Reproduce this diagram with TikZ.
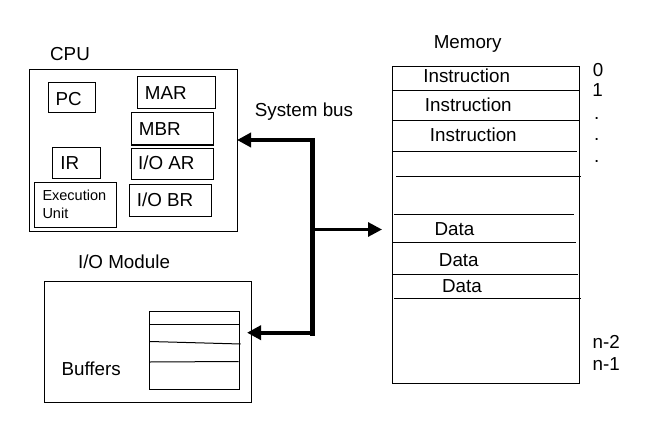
\documentclass[tikz,border=0pt]{standalone}
\usepackage{fontspec}
\setmainfont{Liberation Sans}
\usetikzlibrary{arrows.meta}
\begin{document}
\begin{tikzpicture}[x=1pt,y=-1pt,
  box/.style={draw, line width=1pt, anchor=north west, inner sep=0pt, outer sep=0pt},
  lbl/.style={inner sep=0pt, text height=13.5pt, text depth=0pt, font=\fontsize{18.8}{20}\selectfont},
  small/.style={inner sep=0pt, text height=10.4pt, text depth=0pt, font=\fontsize{14.5}{16}\selectfont, anchor=west},
  thin/.style={line width=1pt},
  bus/.style={line width=4pt, -{Triangle[length=14pt,width=14pt]}}]
\useasboundingbox (0,0) rectangle (669,441);
% CPU
\node[box, minimum width=208pt, minimum height=161pt] (cpu) at (29,70) {};
\node[lbl] (cpul) at (70,54) {CPU};
\node[box, minimum width=47pt, minimum height=30pt] (pc) at (48,83) {};
\node[lbl] at (68.7,98.8) {PC};
\node[box, minimum width=78pt, minimum height=32pt] (mar) at (137,77) {};
\node[lbl] at (165.8,92.8) {MAR};
\node[box, minimum width=82pt, minimum height=32pt] (mbr) at (131,113) {};
\node[lbl] at (159.8,129.2) {MBR};
\node[box, minimum width=48pt, minimum height=31pt] (ir) at (52,147) {};
\node[lbl] at (69.7,162.5) {IR};
\node[box, minimum width=82pt, minimum height=31pt] (ioar) at (131,148) {};
\node[lbl] at (166.3,163) {I/O AR};
\node[box, minimum width=82pt, minimum height=45pt] (exec) at (34,182) {};
\node[small] at (42.3,195) {Execution};
\node[small] at (42.3,213.3) {Unit};
\node[box, minimum width=82pt, minimum height=32pt] (iobr) at (129,184) {};
\node[lbl] at (165,199.5) {I/O BR};
% I/O module
\node[lbl] (ioml) at (124,261.7) {I/O Module};
\node[box, minimum width=207pt, minimum height=121pt] (iom) at (44,281) {};
\node[box, minimum width=90pt, minimum height=78pt] (buf) at (149,311) {};
\draw[thin] (149,324.3) -- (240,324.3);
\draw[thin] (150,341.5) -- (240.7,344);
\draw[thin] (150,362) -- (238.7,361.5);
\node[lbl] at (91.2,368.3) {Buffers};
% Memory
\node[lbl] (meml) at (467.7,41.3) {Memory};
\node[box, minimum width=187pt, minimum height=316pt] (mem) at (392,67) {};
\draw[thin] (393,90.7) -- (580,90.7);
\draw[thin] (392,120.7) -- (579,120.7);
\draw[thin] (392,151) -- (576.7,151);
\draw[thin] (396,176.7) -- (580.7,176.7);
\draw[thin] (394,214) -- (574,214);
\draw[thin] (392,242.3) -- (576,242.3);
\draw[thin] (392,274.7) -- (578,274.7);
\draw[thin] (394,298.7) -- (580.7,298.7);
\node[lbl] at (466.7,75.8) {Instruction};
\node[lbl] at (468.3,105) {Instruction};
\node[lbl] at (473.3,135) {Instruction};
\node[lbl] at (454.5,228.3) {Data};
\node[lbl] at (458.8,260) {Data};
\node[lbl] at (462,285.5) {Data};
\node[lbl] at (598,69.3) {0};
\node[lbl] at (597.7,90) {1};
\node[inner sep=0pt, anchor=base, font=\fontsize{18.8}{20}\selectfont] at (596.7,119.3) {.};
\node[inner sep=0pt, anchor=base, font=\fontsize{18.8}{20}\selectfont] at (596.7,141) {.};
\node[inner sep=0pt, anchor=base, font=\fontsize{18.8}{20}\selectfont] at (596.7,162.7) {.};
\node[lbl] at (606.3,341.7) {n-2};
\node[lbl] at (606.3,364.2) {n-1};
% System bus
\node[lbl] (busl) at (304,110) {System bus};
\coordinate (btop) at (312,138);
\coordinate (bbot) at (312,335.7);
\coordinate (j1) at (312,140);
\coordinate (j2) at (312,229.5);
\coordinate (j3) at (312,332.7);
\draw[line width=5pt] (btop) -- (bbot);
\draw[bus] (j1) -- (j1 -| cpu.east);
\draw[bus, line width=3pt] (j2) -- ([xshift=-10pt]j2 -| mem.west);
\draw[bus] (j3) -- ([xshift=-4pt]j3 -| iom.east);
\end{tikzpicture}
\end{document}
